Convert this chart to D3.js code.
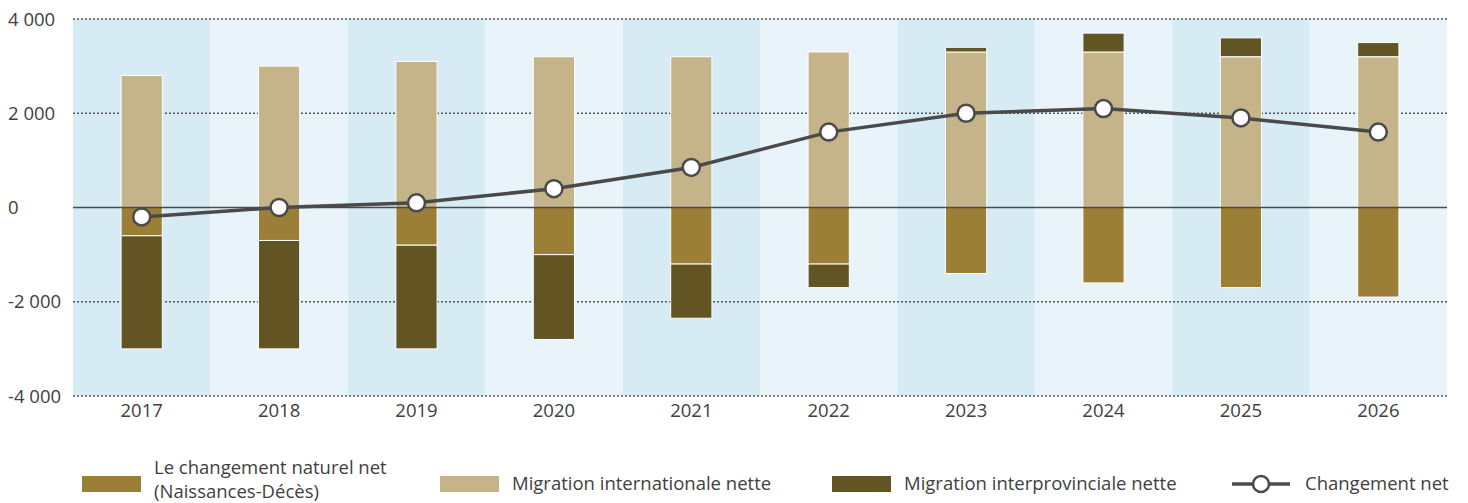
<!DOCTYPE html>
<html>
<head>
<meta charset="utf-8">
<script src="https://cdn.jsdelivr.net/npm/d3@7"></script>
<style>
  body { margin: 0; background: #fff; }
  svg { display: block; font-family: "Open Sans", sans-serif; }
</style>
</head>
<body>
<svg id="chart" width="1468" height="503"></svg>
<script>
// donnees
const annees = ["2017", "2018", "2019", "2020", "2021", "2022", "2023", "2024", "2025", "2026"];
const naturel = [-600, -700, -800, -1000, -1200, -1200, -1400, -1600, -1700, -1900];
const international = [2800, 3000, 3100, 3200, 3200, 3300, 3300, 3300, 3200, 3200];
const interprovincial = [-2400, -2300, -2200, -1800, -1150, -500, 100, 400, 400, 300];
const changementNet = [-200, 0, 100, 400, 850, 1600, 2000, 2100, 1900, 1600];
const yTicks = [-4000, -2000, 0, 2000, 4000];

const couleurs = { naturel: "#9c7f37", international: "#c5b489", interprovincial: "#635424" };
const libelles = {
  naturel: ["Le changement naturel net", "(Naissances-Décès)"],
  international: ["Migration internationale nette"],
  interprovincial: ["Migration interprovinciale nette"]
};

const svg = d3.select("#chart");
const mLeft = 73, mRight = 1447, mTop = 19, mBottom = 396;
const fs = 18.5;

const x = d3.scaleBand().domain(annees).range([mLeft, mRight]).padding(0);
const y = d3.scaleLinear().domain([-4000, 4000]).range([mBottom, mTop]);

const rows = annees.map((a, i) => ({
  annee: a,
  naturel: naturel[i],
  international: international[i],
  interprovincial: interprovincial[i]
}));

const keys = ["naturel", "international", "interprovincial"];
const series = d3.stack().keys(keys).offset(d3.stackOffsetDiverging)(rows);

// bandes de fond
svg.append("g").selectAll("rect")
  .data(annees)
  .join("rect")
  .attr("x", d => x(d))
  .attr("y", mTop)
  .attr("width", x.bandwidth())
  .attr("height", mBottom - mTop)
  .attr("fill", (d, i) => i % 2 == 0 ? "#d7ebf4" : "#e8f4f9");

// grille pointillee
svg.append("g").selectAll("line")
  .data(yTicks.filter(t => t != 0))
  .join("line")
  .attr("x1", mLeft).attr("x2", mRight)
  .attr("y1", d => y(d)).attr("y2", d => y(d))
  .attr("stroke", "#555")
  .attr("stroke-width", 1.3)
  .attr("stroke-dasharray", "2,2");

// etiquettes axe y
svg.append("g").selectAll("text")
  .data(yTicks)
  .join("text")
  .attr("x", 8)
  .attr("y", d => y(d) + 6.5)
  .attr("font-size", fs)
  .attr("fill", "#404040")
  .text(d => d3.format(",")(d).replace(/,/g, " ").replace("−", "-"));

// axe x
const xAxis = svg.append("g")
  .attr("transform", `translate(0,${mBottom})`)
  .call(d3.axisBottom(x).tickSize(0).tickPadding(8));
xAxis.select(".domain").remove();
xAxis.selectAll("text")
  .attr("font-size", fs)
  .attr("font-family", "Open Sans, sans-serif")
  .attr("fill", "#404040");

// barres empilees
const barW = x.bandwidth() * 0.3;
svg.append("g").selectAll("g")
  .data(series)
  .join("g")
  .attr("fill", d => couleurs[d.key])
  .selectAll("rect")
  .data(d => d)
  .join("rect")
  .attr("x", d => x(d.data.annee) + (x.bandwidth() - barW) / 2)
  .attr("y", d => y(Math.max(d[0], d[1])))
  .attr("height", d => Math.abs(y(d[0]) - y(d[1])))
  .attr("width", barW)
  .attr("stroke", "#fff")
  .attr("stroke-width", 1);

// ligne zero
svg.append("line")
  .attr("x1", mLeft).attr("x2", mRight)
  .attr("y1", y(0)).attr("y2", y(0))
  .attr("stroke", "#4a4a4a")
  .attr("stroke-width", 1.6);

// changement net
const cx = d => x(d) + x.bandwidth() / 2;
const ligne = d3.line()
  .x((d, i) => cx(annees[i]))
  .y(d => y(d));

svg.append("path")
  .datum(changementNet)
  .attr("d", ligne)
  .attr("fill", "none")
  .attr("stroke", "#4a4a4a")
  .attr("stroke-width", 3.5);

svg.append("g").selectAll("circle")
  .data(changementNet)
  .join("circle")
  .attr("cx", (d, i) => cx(annees[i]))
  .attr("cy", d => y(d))
  .attr("r", 8.5)
  .attr("fill", "#fff")
  .attr("stroke", "#4a4a4a")
  .attr("stroke-width", 2.5);

// legende
const leg = svg.append("g");
const legPos = { naturel: 82, international: 440, interprovincial: 832 };
keys.forEach(k => {
  leg.append("rect")
    .attr("x", legPos[k]).attr("y", 476)
    .attr("width", 59).attr("height", 16)
    .attr("fill", couleurs[k]);
  const t = leg.append("text")
    .attr("x", legPos[k] + 72)
    .attr("font-size", fs)
    .attr("fill", "#404040");
  if (libelles[k].length == 1) {
    t.attr("y", 490).text(libelles[k][0]);
  } else {
    t.attr("y", 474).text(libelles[k][0]);
    leg.append("text")
      .attr("x", legPos[k] + 72).attr("y", 498)
      .attr("font-size", fs).attr("fill", "#404040")
      .text(libelles[k][1]);
  }
});
leg.append("line")
  .attr("x1", 1232).attr("x2", 1290)
  .attr("y1", 484).attr("y2", 484)
  .attr("stroke", "#4a4a4a").attr("stroke-width", 3.5);
leg.append("circle")
  .attr("cx", 1261).attr("cy", 484).attr("r", 8)
  .attr("fill", "#fff").attr("stroke", "#4a4a4a").attr("stroke-width", 2.5);
leg.append("text")
  .attr("x", 1305).attr("y", 490)
  .attr("font-size", fs).attr("fill", "#404040")
  .text("Changement net");
</script>
</body>
</html>
